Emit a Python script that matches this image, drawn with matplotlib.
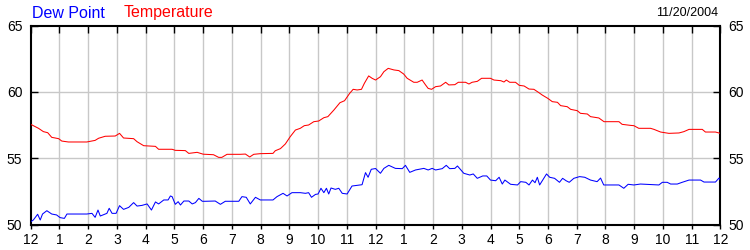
"""Daily dew point / temperature chart for 11/20/2004."""

import matplotlib

matplotlib.use("Agg")
import matplotlib.pyplot as plt

# hours since midnight, degrees F
temp_hours = [
    0, 0.27, 0.44, 0.59, 0.73, 0.97, 1.08, 1.31, 1.95, 2.24, 2.36, 2.59,
    2.94, 3.09, 3.23, 3.58, 3.70, 3.93, 4.34, 4.45, 4.92, 5.03, 5.38, 5.5,
    5.79, 6.0, 6.36, 6.54, 6.65, 6.83, 7.29, 7.47, 7.62, 7.76, 7.99, 8.43,
    8.51, 8.69, 8.86, 9.03, 9.21, 9.38, 9.52, 9.67, 9.85, 10.02, 10.2,
    10.34, 10.55, 10.76, 10.92, 11.1, 11.22, 11.36, 11.51, 11.61, 11.76,
    11.88, 12.0, 12.17, 12.29, 12.44, 12.64, 12.81, 12.98, 13.1, 13.33,
    13.45, 13.62, 13.74, 13.83, 13.95, 14.09, 14.26, 14.44, 14.55, 14.76,
    14.88, 15.13, 15.25, 15.36, 15.54, 15.69, 16.0, 16.12, 16.36, 16.47,
    16.55, 16.67, 16.87, 17.0, 17.17, 17.34, 17.51, 17.67, 17.8, 18.0,
    18.15, 18.33, 18.44, 18.67, 18.79, 19.02, 19.13, 19.37, 19.48, 19.77,
    19.95, 20.47, 20.58, 20.88, 20.99, 21.16, 21.57, 21.69, 21.92, 22.21,
    22.56, 22.73, 22.91, 23.37, 23.48, 23.83, 24.0,
]
temperature = [
    57.55, 57.25, 57.0, 56.92, 56.57, 56.47, 56.29, 56.22, 56.22, 56.34,
    56.5, 56.65, 56.67, 56.87, 56.52, 56.47, 56.24, 55.94, 55.89, 55.67,
    55.67, 55.59, 55.57, 55.36, 55.44, 55.3, 55.26, 55.06, 55.06, 55.29,
    55.29, 55.31, 55.09, 55.29, 55.34, 55.36, 55.56, 55.72, 56.07, 56.62,
    57.12, 57.25, 57.45, 57.5, 57.75, 57.8, 58.05, 58.13, 58.63, 59.18,
    59.33, 59.89, 60.19, 60.14, 60.19, 60.64, 61.2, 61.02, 60.89, 61.14,
    61.52, 61.77, 61.65, 61.6, 61.34, 61.02, 60.72, 60.72, 60.89, 60.52,
    60.26, 60.19, 60.39, 60.44, 60.72, 60.52, 60.54, 60.72, 60.72, 60.59,
    60.72, 60.79, 61.02, 61.02, 60.89, 60.84, 60.74, 60.89, 60.72, 60.72,
    60.49, 60.44, 60.21, 60.19, 59.96, 59.76, 59.5, 59.26, 59.21, 58.96,
    58.88, 58.68, 58.58, 58.38, 58.33, 58.13, 58.03, 57.75, 57.75, 57.55,
    57.47, 57.45, 57.25, 57.25, 57.17, 56.97, 56.87, 56.9, 57.0, 57.17,
    57.17, 56.97, 56.97, 56.87,
]

dew_hours = [
    0, 0.09, 0.24, 0.33, 0.41, 0.56, 0.73, 0.9, 1.02, 1.17, 1.26, 1.95,
    2.13, 2.24, 2.34, 2.42, 2.65, 2.73, 2.83, 2.97, 3.09, 3.23, 3.41,
    3.58, 3.70, 3.87, 4.05, 4.2, 4.34, 4.45, 4.63, 4.78, 4.86, 4.92, 5.03,
    5.13, 5.21, 5.33, 5.5, 5.62, 5.73, 5.85, 5.97, 6.08, 6.42, 6.6, 6.77,
    7.24, 7.35, 7.5, 7.64, 7.82, 7.99, 8.43, 8.57, 8.78, 8.92, 9.09, 9.38,
    9.56, 9.67, 9.77, 9.91, 10.0, 10.1, 10.2, 10.29, 10.37, 10.45, 10.6,
    10.72, 10.84, 11.01, 11.18, 11.36, 11.53, 11.65, 11.74, 11.85, 12.0,
    12.17, 12.29, 12.46, 12.69, 12.93, 13.04, 13.19, 13.39, 13.68, 13.83,
    13.97, 14.09, 14.32, 14.46, 14.58, 14.76, 14.85, 15.07, 15.28, 15.4,
    15.54, 15.73, 15.87, 16.0, 16.18, 16.3, 16.41, 16.5, 16.7, 16.94,
    17.05, 17.23, 17.34, 17.46, 17.55, 17.63, 17.71, 17.83, 17.95, 18.06,
    18.23, 18.4, 18.51, 18.63, 18.74, 18.9, 19.1, 19.28, 19.48, 19.71,
    19.83, 19.94, 20.47, 20.64, 20.79, 20.99, 21.22, 21.86, 21.98, 22.15,
    22.27, 22.5, 22.67, 22.91, 23.31, 23.43, 23.83, 23.95, 24.0,
]
dew_point = [
    50.21, 50.34, 50.77, 50.34, 50.79, 51.04, 50.79, 50.72, 50.52, 50.46,
    50.79, 50.79, 50.84, 50.54, 51.09, 50.64, 50.84, 51.22, 50.84, 50.84,
    51.42, 51.14, 51.29, 51.65, 51.39, 51.44, 51.55, 51.09, 51.7, 51.55,
    51.85, 51.85, 52.15, 52.1, 51.52, 51.72, 51.47, 51.77, 51.77, 51.55,
    51.65, 51.97, 51.75, 51.75, 51.77, 51.52, 51.75, 51.75, 52.1, 52.05,
    51.55, 52.05, 51.85, 51.85, 52.1, 52.35, 52.15, 52.4, 52.4, 52.35,
    52.4, 52.05, 52.27, 52.3, 52.73, 52.4, 52.73, 52.3, 52.75, 52.65,
    52.73, 52.35, 52.3, 52.9, 52.95, 53.0, 53.91, 53.56, 54.16, 54.22,
    53.86, 54.23, 54.46, 54.23, 54.21, 54.46, 53.93, 54.11, 54.23, 54.11,
    54.23, 54.11, 54.21, 54.46, 54.21, 54.23, 54.41, 53.86, 53.73, 53.81,
    53.48, 53.66, 53.66, 53.35, 53.3, 53.56, 53.05, 53.35, 53.03, 52.98,
    53.23, 53.18, 52.98, 53.35, 53.15, 53.56, 52.98, 53.4, 53.81, 53.56,
    53.48, 53.18, 53.48, 53.3, 53.18, 53.48, 53.61, 53.56, 53.35, 53.23,
    53.5, 52.98, 52.98, 52.73, 53.03, 52.98, 53.05, 52.98, 53.18, 53.18,
    53.05, 53.05, 53.18, 53.35, 53.35, 53.2, 53.2, 53.5, 53.35,
]

hour_labels = ["12"] + [str(h) for h in range(1, 12)] + ["12"] + \
    [str(h) for h in range(1, 12)] + ["12"]
y_ticks = [50, 55, 60, 65]
date_text = "11/20/2004"


def draw_chart():
    plt.rcParams["font.family"] = ["Liberation Sans", "DejaVu Sans"]

    fig = plt.figure(figsize=(7.5, 2.5), dpi=100)
    ax = fig.add_axes([0.041, 0.102, 0.9195, 0.796])

    # grid first so the curves sit on top
    for h in range(1, 24):
        ax.axvline(h, color="#c8c8c8", linewidth=1.0, zorder=1)
    for v in y_ticks[1:-1]:
        ax.axhline(v, color="#c8c8c8", linewidth=1.0, zorder=1)

    ax.plot(temp_hours, temperature, color="#ff0000", linewidth=0.75, zorder=3)
    ax.plot(dew_hours, dew_point, color="#0000ff", linewidth=0.75, zorder=3)

    ax.set_xlim(0, 24)
    ax.set_ylim(50, 65)

    ax.set_xticks(range(25))
    ax.set_xticklabels(hour_labels, fontsize=10)
    ax.set_yticks(y_ticks)
    ax.set_yticklabels([str(v) for v in y_ticks], fontsize=10)

    ax.tick_params(axis="x", direction="out", length=3, width=1, pad=3,
                   top=True, bottom=True)
    ax.tick_params(axis="y", direction="in", length=5, width=1, pad=6,
                   left=True, right=True, labelleft=True, labelright=True)
    # top ticks point into the plot
    for tick in ax.xaxis.get_major_ticks():
        tick.tick2line.set_marker(3)
        tick.tick2line.set_markersize(5)

    for side in ax.spines.values():
        side.set_linewidth(1.5)
        side.set_color("black")

    # header text
    fig.text(0.043, 0.948, "Dew Point", color="#0000ff", fontsize=11.5,
             ha="left", va="center")
    fig.text(0.165, 0.948, "Temperature", color="#ff0000", fontsize=11.5,
             ha="left", va="center")
    fig.text(0.957, 0.948, date_text, color="black", fontsize=9,
             ha="right", va="center")

    fig.savefig("out.png", dpi=100)


if __name__ == "__main__":
    draw_chart()
